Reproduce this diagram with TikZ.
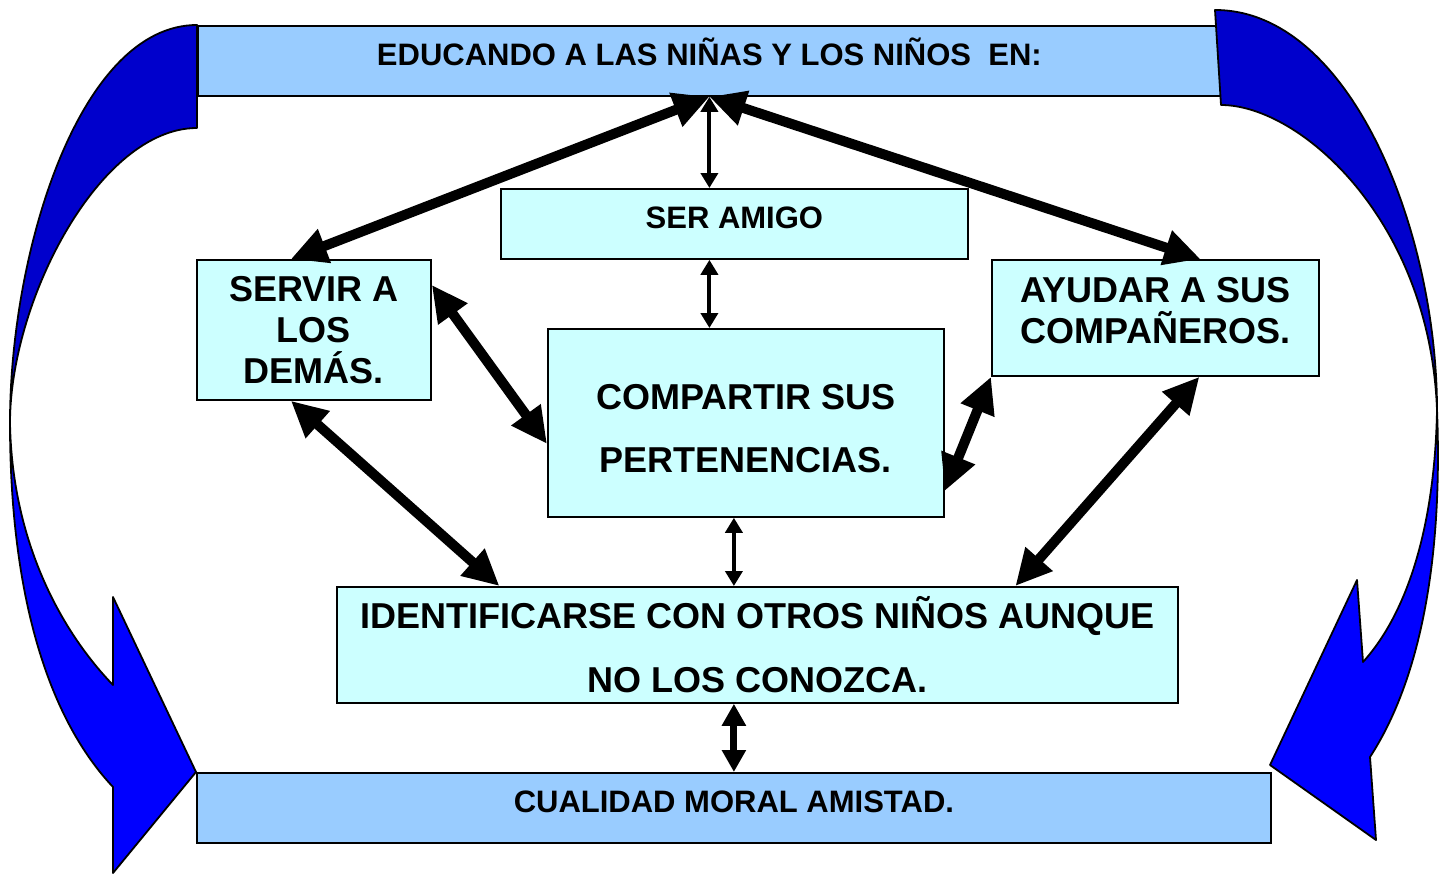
\documentclass[tikz,border=0pt]{standalone}
\usepackage{fontspec}
\setmainfont{Liberation Sans}
\usetikzlibrary{arrows.meta, positioning}

\definecolor{barblue}{HTML}{99CCFF}
\definecolor{boxcyan}{HTML}{CCFFFF}
\definecolor{ribbondark}{HTML}{0000CC}
\definecolor{ribbonblue}{HTML}{0000FF}

\begin{document}
\begin{tikzpicture}[x=1pt, y=-1pt,
    base/.style={draw=black, line width=1.8pt, inner sep=0pt, anchor=north west},
    bar/.style={base, fill=barblue},
    box/.style={base, fill=boxcyan},
    small/.style={font=\fontsize{31}{36}\selectfont\bfseries, text height=22pt, text depth=13pt},
    big/.style={font=\fontsize{36}{41}\selectfont\bfseries, align=center},
    wide/.style={font=\fontsize{36}{63}\selectfont\bfseries, align=center},
    bigarrow/.style={line width=10pt, {Triangle[length=36pt,width=34pt]}-{Triangle[length=36pt,width=34pt]}},
    midarrow/.style={line width=7pt, {Triangle[length=22pt,width=23pt]}-{Triangle[length=22pt,width=23pt]}},
    thinarrow/.style={line width=4pt, {Triangle[length=15pt,width=17pt]}-{Triangle[length=15pt,width=17pt]}},
    ribbon/.style={draw=black, line width=1.8pt, line join=round}]
                    \useasboundingbox (0,0) rectangle (1439,875);

                    \node[bar, small, minimum width=1023pt, minimum height=70pt](top) at (197,25) {EDUCANDO A LAS NIÑAS Y LOS NIÑOS\ \ EN:};
                    \node[box, small, minimum width=467pt, minimum height=70pt](amigo) at (500,188) {SER AMIGO};
                    \node[box, big, minimum width=234pt, minimum height=140pt](servir) at (196,259) {SERVIR A\\LOS\\DEMÁS.};
                    \node[box, big, text depth=14pt, minimum width=327pt, minimum height=116pt](ayudar) at (991,259) {AYUDAR A SUS\\COMPAÑEROS.};
                    \node[box, wide, text height=99pt, minimum width=396pt, minimum height=188pt](compartir) at (547,328) {COMPARTIR SUS\\PERTENENCIAS.};
                    \node[box, wide, font=\fontsize{36}{64}\selectfont\bfseries, minimum width=841pt, minimum height=116pt](ident) at (336,586) {IDENTIFICARSE CON OTROS NIÑOS AUNQUE\\NO LOS CONOZCA.};
                    \node[bar, small, minimum width=1074pt, minimum height=70pt](cualidad) at (196,772) {CUALIDAD MORAL AMISTAD.};

                    \draw[bigarrow] (top.south) -- ([xshift=-23pt]servir.north);
                    \draw[bigarrow] (top.south) -- ([xshift=45pt]ayudar.north);
                    \draw[bigarrow] ([yshift=45pt]servir.east) -- ([yshift=-21pt]compartir.west);
                    \draw[bigarrow] ([xshift=-23pt]servir.south) -- ([xshift=-258pt]ident.north);
                    \draw[bigarrow] ([yshift=-68pt]compartir.east) -- (ayudar.south west);
                    \draw[bigarrow] ([xshift=44pt]ayudar.south) -- ([xshift=258pt]ident.north);
                    \draw[thinarrow] (top.south) -- (top.south |- amigo.north);
                    \draw[thinarrow] (amigo.south -| top.south) -- (compartir.north -| top.south);
                    \draw[thinarrow] (compartir.south -| cualidad.north) -- (ident.north -| cualidad.north);
                    \draw[midarrow] (ident.south -| cualidad.north) -- (cualidad.north);

                    \draw[ribbon, fill=ribbondark] (197,25) .. controls (80,25) and (10,250) .. (10,423)
                        .. controls (10,300) and (100,128) .. (197,128) -- cycle;
                    \draw[ribbon, fill=ribbonblue] (10,423) .. controls (10,600) and (50,720) .. (113,787)
                        -- (113,873) -- (196,772) -- (113,597) -- (113,685)
                        .. controls (60,630) and (12,540) .. (10,423) -- cycle;
                    \draw[ribbon, fill=ribbondark] (1215,10) .. controls (1350,10) and (1437,230) .. (1437,410)
                        .. controls (1430,220) and (1300,105) .. (1221,105) -- cycle;
                    \draw[ribbon, fill=ribbonblue] (1437,410) .. controls (1443,560) and (1420,680) .. (1370,757)
                        -- (1376,840) -- (1270,765) -- (1357,580) -- (1363,662)
                        .. controls (1410,610) and (1435,520) .. (1437,410) -- cycle;
                \end{tikzpicture}
\end{document}
